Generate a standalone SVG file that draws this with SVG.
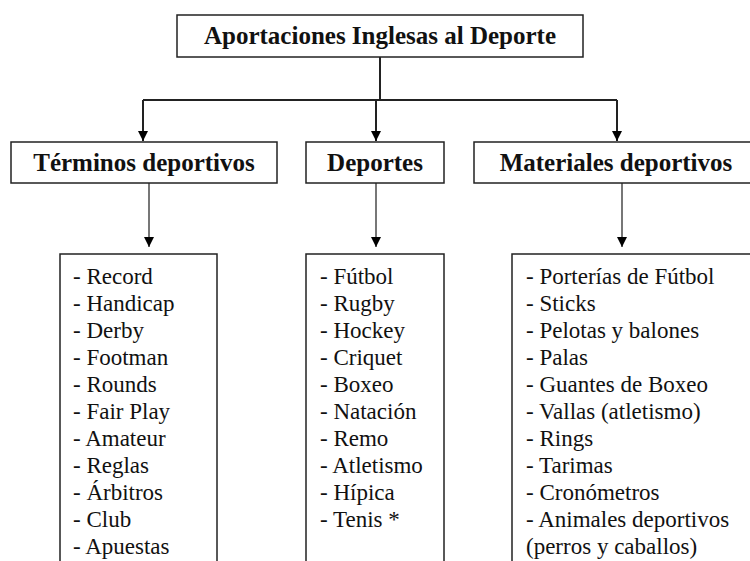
<svg xmlns="http://www.w3.org/2000/svg" width="750" height="561" viewBox="0 0 750 561">
<defs>
<style>
.box{fill:#fff;stroke:#222;stroke-width:1.5}
.hd{font-family:"Liberation Serif","Times New Roman",serif;font-weight:bold;font-size:25px;fill:#111;text-anchor:middle}
.li{font-family:"Liberation Serif","Times New Roman",serif;font-size:23px;fill:#111}
.ln{fill:none;stroke:#222;stroke-width:2}
.ln2{fill:none;stroke:#555;stroke-width:1.6}
</style>
<marker id="ah" viewBox="0 0 10 10" refX="10" refY="5" markerWidth="10" markerHeight="10" markerUnits="userSpaceOnUse" orient="auto">
<path d="M0,0 L10,5 L0,10 z" fill="#000"/>
</marker>
</defs>
<rect width="750" height="561" fill="#fff"/>
<g id="connectors">
<path class="ln" d="M380,57 V100"/>
<path class="ln" d="M143,100 H617"/>
<path class="ln" d="M143,100 V141" marker-end="url(#ah)"/>
<path class="ln" d="M376,100 V141" marker-end="url(#ah)"/>
<path class="ln" d="M617,100 V141" marker-end="url(#ah)"/>
<path class="ln2" d="M149,183 V247" marker-end="url(#ah)"/>
<path class="ln2" d="M376,183 V247" marker-end="url(#ah)"/>
<path class="ln2" d="M622,183 V247" marker-end="url(#ah)"/>
</g>
<g id="root">
<rect class="box" x="177" y="15" width="406" height="42"/>
<text class="hd" x="380" y="44">Aportaciones Inglesas al Deporte</text>
</g>
<g id="terminos">
<rect class="box" x="11" y="142" width="266" height="41"/>
<text class="hd" x="144" y="171">Términos deportivos</text>
</g>
<g id="deportes">
<rect class="box" x="306" y="142" width="138" height="41"/>
<text class="hd" x="375" y="171">Deportes</text>
</g>
<g id="materiales">
<rect class="box" x="474" y="142" width="285" height="41"/>
<text class="hd" x="616" y="171">Materiales deportivos</text>
</g>
<g id="lista-terminos">
<rect class="box" x="60" y="254" width="157" height="320"/>
<text class="li" x="73" y="284">- Record</text>
<text class="li" x="73" y="311">- Handicap</text>
<text class="li" x="73" y="338">- Derby</text>
<text class="li" x="73" y="365">- Footman</text>
<text class="li" x="73" y="392">- Rounds</text>
<text class="li" x="73" y="419">- Fair Play</text>
<text class="li" x="73" y="446">- Amateur</text>
<text class="li" x="73" y="473">- Reglas</text>
<text class="li" x="73" y="500">- Árbitros</text>
<text class="li" x="73" y="527">- Club</text>
<text class="li" x="73" y="554">- Apuestas</text>
</g>
<g id="lista-deportes">
<rect class="box" x="306" y="254" width="138" height="320"/>
<text class="li" x="320" y="284">- Fútbol</text>
<text class="li" x="320" y="311">- Rugby</text>
<text class="li" x="320" y="338">- Hockey</text>
<text class="li" x="320" y="365">- Criquet</text>
<text class="li" x="320" y="392">- Boxeo</text>
<text class="li" x="320" y="419">- Natación</text>
<text class="li" x="320" y="446">- Remo</text>
<text class="li" x="320" y="473">- Atletismo</text>
<text class="li" x="320" y="500">- Hípica</text>
<text class="li" x="320" y="527">- Tenis *</text>
</g>
<g id="lista-materiales">
<rect class="box" x="512" y="254" width="250" height="320"/>
<text class="li" x="526" y="284">- Porterías de Fútbol</text>
<text class="li" x="526" y="311">- Sticks</text>
<text class="li" x="526" y="338">- Pelotas y balones</text>
<text class="li" x="526" y="365">- Palas</text>
<text class="li" x="526" y="392">- Guantes de Boxeo</text>
<text class="li" x="526" y="419">- Vallas (atletismo)</text>
<text class="li" x="526" y="446">- Rings</text>
<text class="li" x="526" y="473">- Tarimas</text>
<text class="li" x="526" y="500">- Cronómetros</text>
<text class="li" x="526" y="527">- Animales deportivos</text>
<text class="li" x="526" y="554">(perros y caballos)</text>
</g>
</svg>
